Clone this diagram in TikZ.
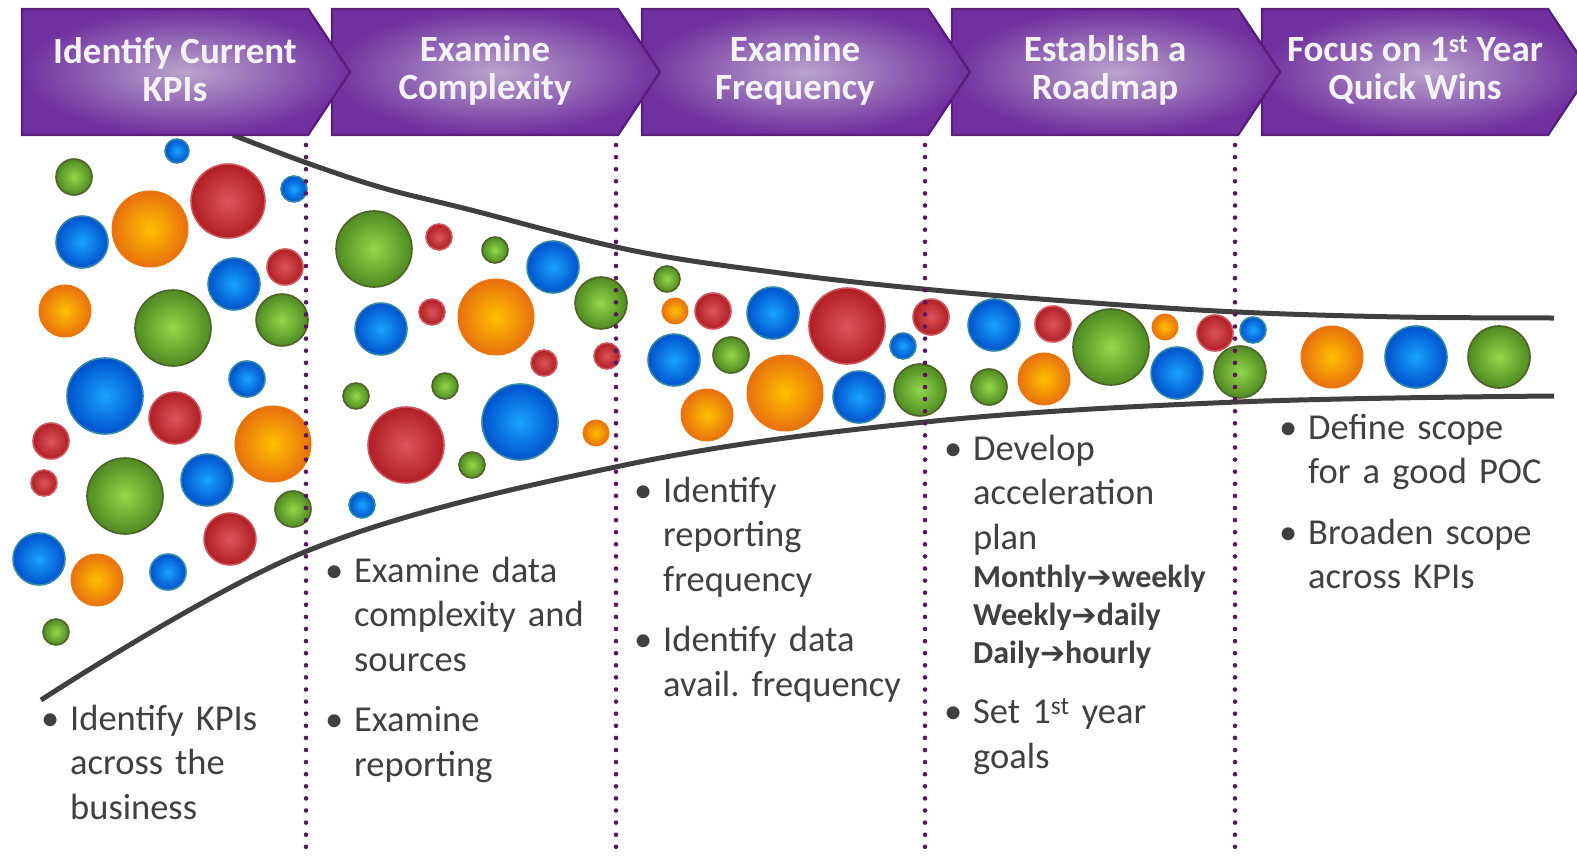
\documentclass[tikz,border=0pt]{standalone}
\usepackage{fontspec}
\setmainfont{Carlito}
\newfontfamily\arrowfont{DejaVu Sans}
\usetikzlibrary{calc}

\definecolor{chevpurple}{HTML}{7030A0}
\definecolor{chevlight}{HTML}{B9A4CC}
\definecolor{chevedge}{HTML}{5A1E7C}
\definecolor{dotpurple}{HTML}{5A1660}
\definecolor{funnelgray}{HTML}{404040}
\definecolor{textgray}{HTML}{404040}

\newcommand\bitem[1]{\raggedright\frenchspacing\leftskip=21pt\noindent\llap{\makebox[21pt][l]{\hspace{-8pt}\textbullet}}#1\par}
\newcommand\barrow{{\arrowfont\fontsize{30}{30}\selectfont\char"2794}}

\tikzset{
 bluebub/.style={inner color=cyan!60!blue!90!white, outer color=blue!60!cyan!80!black, draw={rgb,255:red,47;green,138;blue,166}, line width=1.6pt},
 greenbub/.style={inner color={rgb,255:red,146;green,216;blue,74}, outer color={rgb,255:red,79;green,138;blue,34}, draw={rgb,255:red,79;green,98;blue,40}, line width=1.6pt},
 redbub/.style={inner color={rgb,255:red,222;green,84;blue,92}, outer color={rgb,255:red,176;green,30;blue,36}, draw={rgb,255:red,206;green,86;blue,92}, line width=1.6pt},
 orangebub/.style={inner color={rgb,255:red,255;green,192;blue,0}, outer color={rgb,255:red,232;green,112;blue,14}, draw={rgb,255:red,236;green,120;blue,16}, line width=1pt},
 funnel/.style={funnelgray, line width=5pt},
 stageline/.style={dotpurple, line width=4.6pt, line cap=round, dash pattern=on 0pt off 12.1pt},
 chev/.style={inner color=chevlight, outer color=chevpurple, draw=chevedge, line width=2.4pt, line join=miter},
 chevtext/.style={text={rgb,255:red,244;green,242;blue,246}, align=center, font=\bfseries\fontsize{37}{38}\selectfont, inner sep=0pt},
 bullets/.style={anchor=base west, text width=300pt, text=textgray, inner sep=0pt, font=\fontsize{36.5}{44.5}\selectfont},
}

\begin{document}
\begin{tikzpicture}[x=1pt, y=-1pt]
\useasboundingbox (0,0) rectangle (1577,856);

\draw[funnel] plot[smooth, tension=.6] coordinates {(233,135) (307,163) (383,188) (467,209) (630,250) (780,273) (923,289) (1080,302) (1237,312) (1400,317) (1554,318)};
\draw[funnel] plot[smooth, tension=.6] coordinates {(41,700) (307,551) (625,465) (925,422) (1237,402) (1554,396)};

\foreach \x/\y/\r in {177/151/12, 294/189/13, 82/242/26, 234/284/26, 247/379/18, 105/396/38, 207/480/26, 39/559/26, 168/572/18, 553/267/26, 381/329/26, 520/422/38, 362/505/13, 773/313/26, 674/360/26, 903/346/13, 859/397/26, 994/325/26, 1177/373/26, 1253/330/13, 1416/357/31}
 \shadedraw[bluebub] (\x,\y) circle[radius=\r];
\foreach \x/\y/\r in {74/177/18, 173/328/38, 282/320/26, 125/496/38, 293/509/18, 56/632/13, 374/249/38, 495/250/13, 601/303/26, 356/396/13, 445/386/13, 472/465/13, 667/279/13, 731/355/18, 920/390/26, 989/387/18, 1111/347/38, 1240/372/26, 1499/357/31}
 \shadedraw[greenbub] (\x,\y) circle[radius=\r];
\foreach \x/\y/\r in {228/201/37, 285/267/18, 175/418/26, 51/441/18, 44/483/13, 230/539/26, 439/237/13, 432/312/13, 544/363/13, 607/356/13, 406/445/38, 713/311/18, 847/326/38, 931/317/18, 1053/324/18, 1215/333/18}
 \shadedraw[redbub] (\x,\y) circle[radius=\r];
\foreach \x/\y/\r in {150/229/38, 65/311/26, 273/444/38, 97/580/26, 496/317/38, 596/433/13, 675/311/13, 707/415/26, 785/393/38, 1165/327/13, 1044/379/26, 1332/357/31}
 \shadedraw[orangebub] (\x,\y) circle[radius=\r];

\foreach \x in {306,616,925,1235}
 \draw[stageline] (\x,145) -- (\x,856);

\foreach \i/\x/\txt in {5/1262/{Focus on 1\textsuperscript{st} Year\\Quick Wins}, 4/952/{Establish a\\Roadmap}, 3/642/{Examine\\Frequency}, 2/332/{Examine\\Complexity}, 1/22/{Identify Current\\KPIs}} {
 \shadedraw[chev] (\x,9) -- ++(286,0) -- ++(42,63) -- ++(-42,63) -- ++(-286,0) -- cycle;
 \node[chevtext] (head\i) at (\x+153,70) {\txt};
}

\node[bullets] (kpis) at (49,730) {\bitem{Identify KPIs\\across the\\business}};
\node[bullets] (complexity) at (333,582) {\bitem{Examine data\\complexity and\\sources}\vspace{16pt}\bitem{Examine\\reporting}};
\node[bullets] (frequency) at (642,502) {\bitem{Identify\\reporting\\frequency}\vspace{16pt}\bitem{Identify data\\avail. frequency}};
\node[bullets] (roadmap) at (952,460) {\bitem{Develop\\acceleration\\plan}
 {\bfseries\fontsize{32}{38}\selectfont\noindent Monthly\barrow weekly\\Weekly\barrow daily\\Daily\barrow hourly\par}
 \vspace{16pt}\bitem{Set 1\textsuperscript{st} year\\goals}};
\node[bullets] (wins) at (1287,439) {\bitem{Define scope\\for a good POC}\vspace{16pt}\bitem{Broaden scope\\across KPIs}};
\end{tikzpicture}
\end{document}
